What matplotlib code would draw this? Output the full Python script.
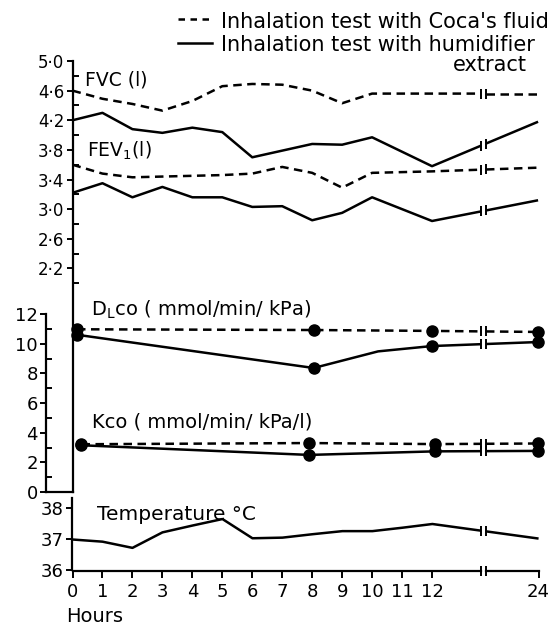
import numpy as np
import matplotlib
matplotlib.use("Agg")
import matplotlib.pyplot as plt
from matplotlib.ticker import FixedLocator, FixedFormatter
from matplotlib.lines import Line2D

# ---------------- data ----------------
fvc_coca_h = [0, 1, 2, 3, 4, 5, 6, 7, 8, 9, 10, 11, 12, 24]
fvc_coca = [4.60, 4.49, 4.42, 4.33, 4.46, 4.66, 4.69, 4.68, 4.60, 4.43, 4.56, 4.56, 4.56, 4.56]
fvc_hum_h = [0, 1, 2, 3, 4, 5, 6, 8, 9, 10, 12, 24]
fvc_hum = [4.20, 4.30, 4.08, 4.03, 4.10, 4.04, 3.70, 3.88, 3.87, 3.97, 3.58, 4.18]

fev_coca_h = [0, 1, 2, 3, 4, 5, 6, 7, 8, 9, 10, 11, 12, 24]
fev_coca = [3.60, 3.48, 3.43, 3.44, 3.45, 3.46, 3.48, 3.57, 3.49, 3.29, 3.49, 3.50, 3.51, 3.56]
fev_hum_h = [0, 1, 2, 3, 4, 5, 6, 7, 8, 9, 10, 12, 24]
fev_hum = [3.22, 3.35, 3.16, 3.30, 3.16, 3.16, 3.03, 3.04, 2.85, 2.95, 3.16, 2.84, 3.12]

dlco_coca_h = [0.15, 8.05, 12, 24]
dlco_coca = [10.97, 10.92, 10.86, 10.79]
dlco_hum_h = [0.15, 8.05, 10.2, 12, 24]
dlco_hum = [10.60, 8.36, 9.48, 9.84, 10.11]
dlco_hum_dots = [True, True, False, True, True]

kco_coca_h = [0.3, 7.9, 12.1, 24]
kco_coca = [3.22, 3.30, 3.23, 3.27]
kco_hum_h = [0.3, 7.9, 12.1, 24]
kco_hum = [3.15, 2.50, 2.74, 2.77]

temp_h = [0, 1, 2, 3, 4, 5, 6, 7, 8, 9, 10, 11, 12, 24]
temp = [37.00, 36.93, 36.73, 37.23, 37.45, 37.66, 37.04, 37.06, 37.17, 37.27, 37.27, 37.38, 37.50, 37.03]

hour_ticks = [0, 1, 2, 3, 4, 5, 6, 7, 8, 9, 10, 11, 12, 24]
fvc_ticks = [2.2, 2.6, 3.0, 3.4, 3.8, 4.2, 4.6, 5.0]
dlco_ticks = [0, 2, 4, 6, 8, 10, 12]
temp_ticks = [36, 37, 38]

legend_labels = ["Inhalation test with Coca's fluid",
                 "Inhalation test with humidifier",
                 "extract"]

# ---------------- layout helpers ----------------
W, H = 554, 626
PX_PER_H = 29.96
X0 = 72.5            # pixel of hour 0
X24 = 15.54          # display position of hour 24
BRK_L, BRK_R = 13.63, 13.80


def hx(h):
    """map hours to display x (axis broken between 12 and 24)"""
    h = np.asarray(h, dtype=float)
    return np.where(h < 18, h, X24 - (24 - h))


def fig_rect(left, top, right, bottom):
    return [left / W, 1 - bottom / H, (right - left) / W, (bottom - top) / H]


fig = plt.figure(figsize=(W / 100, H / 100), dpi=100)
fig.patch.set_facecolor("white")

RIGHT = 548
xmax = (RIGHT - X0) / PX_PER_H

LW = 1.8
DASH = (3.4, 2.2)
K = "black"


def broken_line(ax, hrs, vals, dashed, dots=None, ms=8):
    x = hx(hrs)
    y = np.asarray(vals, dtype=float)
    ls_kw = dict(color=K, lw=LW, solid_capstyle="butt", dash_capstyle="butt")
    if dashed:
        ls_kw["dashes"] = DASH
    left = x <= 12.5
    xl, yl = x[left][-1], y[left][-1]
    xr, yr = x[~left][0], y[~left][0]
    yb1 = np.interp(BRK_L, [xl, xr], [yl, yr])
    yb2 = np.interp(BRK_R, [xl, xr], [yl, yr])
    ax.plot(np.r_[x[left], BRK_L], np.r_[y[left], yb1], clip_on=False, **ls_kw)
    ax.plot(np.r_[BRK_R, x[~left]], np.r_[yb2, y[~left]], clip_on=False, **ls_kw)
    ax.plot([BRK_L, BRK_R], [yb1, yb2], ls="none", marker="|", ms=7, mew=1.4,
            color=K, clip_on=False)
    if dots is not None:
        m = np.asarray(dots, dtype=bool)
        ax.plot(x[m], y[m], ls="none", marker="o", ms=ms, color=K, clip_on=False)


# ---------------- upper panel: FVC / FEV1 ----------------
ax1 = fig.add_axes(fig_rect(X0, 61, RIGHT, 492))
ax1.patch.set_alpha(0)
scale = 0.0135
ax1.set_ylim(5.0 - (492 - 61) * scale, 5.0)
ax1.set_xlim(0, xmax)
for s in ["top", "right", "bottom"]:
    ax1.spines[s].set_visible(False)
ax1.spines["left"].set_linewidth(1.6)
ax1.set_xticks([])
ax1.yaxis.set_major_locator(FixedLocator(fvc_ticks))
ax1.yaxis.set_major_formatter(FixedFormatter([f"{v:.1f}".replace(".", "·") for v in fvc_ticks]))
ax1.yaxis.set_minor_locator(FixedLocator(np.round(np.arange(2.0, 5.0, 0.4), 1)))
ax1.tick_params(axis="y", which="major", direction="out", length=4, width=1.4,
                labelsize=12, pad=2)
ax1.tick_params(axis="y", which="minor", direction="in", length=4, width=1.4)

broken_line(ax1, fvc_coca_h, fvc_coca, dashed=True)
broken_line(ax1, fvc_hum_h, fvc_hum, dashed=False)
broken_line(ax1, fev_coca_h, fev_coca, dashed=True)
broken_line(ax1, fev_hum_h, fev_hum, dashed=False)

# ---------------- middle panel: DLco / Kco ----------------
MID_L = 46
ax2 = fig.add_axes(fig_rect(MID_L, 314, RIGHT, 492))
ax2.patch.set_alpha(0)
ax2.set_ylim(0, 12)
ax2.set_xlim((MID_L - X0) / PX_PER_H, xmax)
for s in ["top", "right"]:
    ax2.spines[s].set_visible(False)
ax2.spines["bottom"].set_bounds((MID_L - X0) / PX_PER_H, 0)
ax2.spines["bottom"].set_linewidth(1.6)
ax2.spines["left"].set_linewidth(1.6)
ax2.set_xticks([])
ax2.yaxis.set_major_locator(FixedLocator(dlco_ticks))
ax2.yaxis.set_minor_locator(FixedLocator([1, 3, 5, 7, 9, 11]))
ax2.tick_params(axis="y", which="major", direction="out", length=4, width=1.4,
                labelsize=13, pad=2)
ax2.tick_params(axis="y", which="minor", direction="in", length=4, width=1.4)

broken_line(ax2, dlco_coca_h, dlco_coca, dashed=True, dots=[True] * len(dlco_coca))
broken_line(ax2, dlco_hum_h, dlco_hum, dashed=False, dots=dlco_hum_dots)
broken_line(ax2, kco_coca_h, kco_coca, dashed=True, dots=[True] * len(kco_coca))
broken_line(ax2, kco_hum_h, kco_hum, dashed=False, dots=[True] * len(kco_hum))

# ---------------- bottom panel: temperature ----------------
ax3 = fig.add_axes(fig_rect(X0 - 0.5, 498, RIGHT, 570.5))
ax3.patch.set_alpha(0)
ax3.set_xlim(-0.5 / PX_PER_H, xmax - 0.5 / PX_PER_H)
ax3.set_ylim(36, 36 + (570.5 - 498) / 31.0)
for s in ["top", "right", "bottom"]:
    ax3.spines[s].set_visible(False)
ax3.spines["left"].set_linewidth(1.6)
ax3.yaxis.set_major_locator(FixedLocator(temp_ticks))
ax3.tick_params(axis="y", which="major", direction="out", length=4, width=1.4,
                labelsize=13, pad=2)
ax3.xaxis.set_major_locator(FixedLocator(list(hx(hour_ticks))))
ax3.xaxis.set_major_formatter(FixedFormatter([str(h) for h in hour_ticks]))
ax3.tick_params(axis="x", which="major", direction="out", length=5, width=1.4,
                labelsize=13, pad=4)
trans = ax3.get_xaxis_transform()
ax3.plot([0, BRK_L], [0, 0], color=K, lw=1.6, transform=trans, clip_on=False)
ax3.plot([BRK_R, X24], [0, 0], color=K, lw=1.6, transform=trans, clip_on=False)
ax3.plot([BRK_L, BRK_R], [0, 0], ls="none", marker="|", ms=7, mew=1.4, color=K,
         transform=trans, clip_on=False)
broken_line(ax3, temp_h, temp, dashed=False)

# ---------------- texts ----------------
def ftext(px, py, s, size, **kw):
    fig.text(px / W, 1 - py / H, s, fontsize=size, **kw)

ftext(85, 85, "FVC (l)", 13.5, va="baseline")
ftext(87, 157, "FEV$_\\mathrm{1}$(l)", 13.5, va="baseline")
ftext(91, 316, "D$_\\mathrm{L}$co ( mmol/min/ kPa)", 14, va="baseline")
ftext(92, 428, "Kco ( mmol/min/ kPa/l)", 14, va="baseline")
ftext(97, 520, "Temperature °C", 14.5, va="baseline")
ftext(66, 622, "Hours", 14, va="baseline")

# legend
fig.add_artist(Line2D([178 / W, 213 / W], [1 - 19 / H, 1 - 19 / H], color=K, lw=LW, dashes=(2.6, 2.2)))
fig.add_artist(Line2D([178 / W, 212 / W], [1 - 43 / H, 1 - 43 / H], color=K, lw=LW))
ftext(221, 28, legend_labels[0], 15, va="baseline")
ftext(221, 51, legend_labels[1], 15, va="baseline")
ftext(490, 71, legend_labels[2], 15, va="baseline", ha="center")

fig.savefig("out.png", dpi=100)
